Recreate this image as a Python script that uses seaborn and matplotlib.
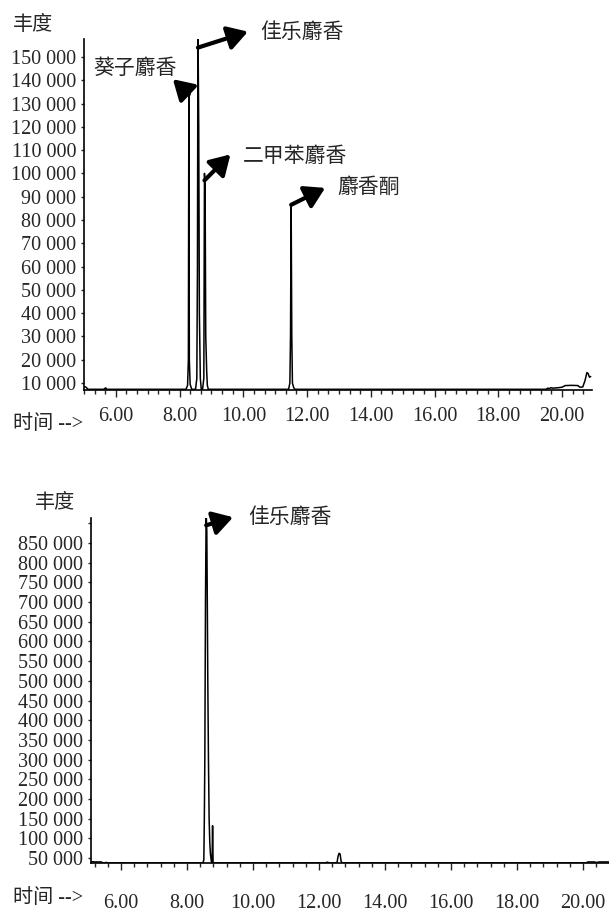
import numpy as np
import matplotlib
matplotlib.use("Agg")
from matplotlib import pyplot as plt
from matplotlib.ticker import MultipleLocator
import seaborn as sns

sns.set_style("ticks")
plt.rcParams["font.family"] = ["Liberation Serif", "Noto Sans CJK SC"]

# chromatogram 1 (mixed standard) - time (min) / abundance
top_time = [5.00, 5.04, 5.08, 5.12, 5.62, 5.68, 5.72, 5.78,
            8.20, 8.25, 8.275, 8.29, 8.305, 8.33, 8.38,
            8.50, 8.54, 8.56, 8.575, 8.60, 8.62, 8.65, 8.68,
            8.72, 8.76, 8.78, 8.80, 8.82, 8.85, 8.87, 8.90,
            11.42, 11.46, 11.48, 11.50, 11.52, 11.54, 11.58, 11.62,
            19.50, 19.55, 19.60, 19.65, 19.70, 19.90, 20.00, 20.10, 20.30,
            20.50, 20.56, 20.65, 20.72, 20.78, 20.82, 20.86, 20.90]
top_abund = [8200, 8400, 8000, 7300, 7300, 7900, 7300, 7300,
             7300, 9000, 20000, 134000, 20000, 9500, 7300,
             7300, 12000, 60000, 165000, 120000, 40000, 12000, 7300,
             7300, 12000, 100000, 95000, 30000, 15000, 9000, 7300,
             7300, 10000, 30000, 86500, 30000, 10000, 8000, 7300,
             7300, 7800, 7600, 8000, 7800, 8000, 8200, 8900, 9000,
             8900, 8200, 8300, 11000, 14500, 14000, 12500, 12800]

# chromatogram 2 (sample)
bot_time = [5.10, 5.15, 5.20, 5.40, 5.45, 5.52, 5.55, 5.58,
            8.48, 8.51, 8.525, 8.54, 8.56, 8.58, 8.60, 8.615, 8.63, 8.65,
            8.67, 8.69, 8.71, 8.74, 8.76, 8.775, 8.79,
            12.20, 12.25, 12.30, 12.35, 12.52, 12.55, 12.58, 12.61, 12.64,
            12.67, 12.70, 20.10, 20.15, 20.35, 20.40, 20.50, 20.80]
bot_abund = [40000, 40500, 40000, 40000, 37500, 37500, 39000, 37500,
             37500, 45000, 150000, 300000, 700000, 930000, 880000, 700000,
             500000, 300000, 150000, 90000, 60000, 40000, 37500, 132000, 37500,
             37500, 39500, 38000, 37500, 37500, 40000, 55000, 62000, 60000,
             42000, 37500, 37500, 40000, 40000, 38500, 40000, 40000]

top_names = ["葵子麝香", "佳乐麝香", "二甲苯麝香", "麝香酮"]
top_peak_t = [8.29, 8.575, 8.78, 11.50]
top_peak_h = [134000, 165000, 100000, 86500]
bot_names = ["佳乐麝香"]
bot_peak_t = [8.58]
bot_peak_h = [930000]

top_yticks = list(range(10000, 160000, 10000))
bot_yticks = list(range(50000, 950000, 50000))
xticks = [6, 8, 10, 12, 14, 16, 18, 20]

W, H = 609, 913
fig = plt.figure(figsize=(W / 100, H / 100), dpi=100)


def px(x, y):
    return x / W, 1 - y / H


def fmt(v):
    return f"{v:,}".replace(",", " ")


ax1 = fig.add_axes([84 / W, 1 - 390 / H, (592 - 84) / W, (390 - 39) / H])
ax2 = fig.add_axes([91 / W, 1 - 863 / H, (609 - 91) / W, (863 - 518) / H])

sns.lineplot(x=top_time, y=top_abund, ax=ax1, color="black", lw=1.1, estimator=None)
sns.lineplot(x=bot_time, y=bot_abund, ax=ax2, color="black", lw=1.1, estimator=None)

ax1.set_xlim(5.0, 20.94)
ax1.set_ylim(7000, 157700)
ax2.set_xlim(5.09, 20.79)
ax2.set_ylim(37300, 913500)

ax1.set_yticks(top_yticks)
ax1.set_yticklabels([fmt(v) for v in top_yticks])
ax2.set_yticks(bot_yticks)
ax2.set_yticklabels([fmt(v) if v < 900000 else "" for v in bot_yticks])

for ax, minor, pad in [(ax1, 1 / 3, 7), (ax2, 0.4, 17)]:
    ax.set_xticks(xticks)
    ax.set_xticklabels([f"{v:.2f}" for v in xticks])
    ax.xaxis.set_minor_locator(MultipleLocator(minor))
    ax.tick_params(axis="x", which="major", length=5, width=1, pad=pad, labelsize=14.5)
    ax.tick_params(axis="x", which="minor", length=3, width=1)
    ax.tick_params(axis="y", length=2.5, width=1, pad=3, labelsize=14.5)
    sns.despine(ax=ax)
    for s in ["left", "bottom"]:
        ax.spines[s].set_linewidth(1.2)
        ax.spines[s].set_color("black")
    ax.set_xlabel("")
    ax.set_ylabel("")

arrow = dict(arrowstyle="<|-,head_length=0.6,head_width=0.36", lw=3, color="black",
             shrinkA=0, shrinkB=0, mutation_scale=20)

# arrows from each peak towards its label (offset in points)
top_offsets = [(-11.5, 10.8), (36, 11.5), (18.7, 18.7), (24.5, 12.2)]
top_caps = [134000, 154000, 97000, 86500]
for t, h, cap, off in zip(top_peak_t, top_peak_h, top_caps, top_offsets):
    ax1.annotate("", xy=(t, min(h, cap)), xytext=off, textcoords="offset points",
                 arrowprops=arrow)
ax2.annotate("", xy=(bot_peak_t[0], min(bot_peak_h[0], 895000)), xytext=(19.4, 5.8),
             textcoords="offset points", arrowprops=arrow)

label_pos = [(93, 69), (260, 33), (243, 157), (337, 188)]
for name, (x, y) in zip(top_names, label_pos):
    fig.text(*px(x, y), name, ha="left", va="center", fontsize=15)
fig.text(*px(248, 518), bot_names[0], ha="left", va="center", fontsize=15)

fig.text(*px(13, 25), "丰度", ha="left", va="center", fontsize=14.5)
fig.text(*px(35, 503), "丰度", ha="left", va="center", fontsize=14.5)
fig.text(*px(13, 424), "时间 -->", ha="left", va="center", fontsize=14.5)
fig.text(*px(13, 898), "时间 -->", ha="left", va="center", fontsize=14.5)

fig.savefig("out.png", dpi=100)
